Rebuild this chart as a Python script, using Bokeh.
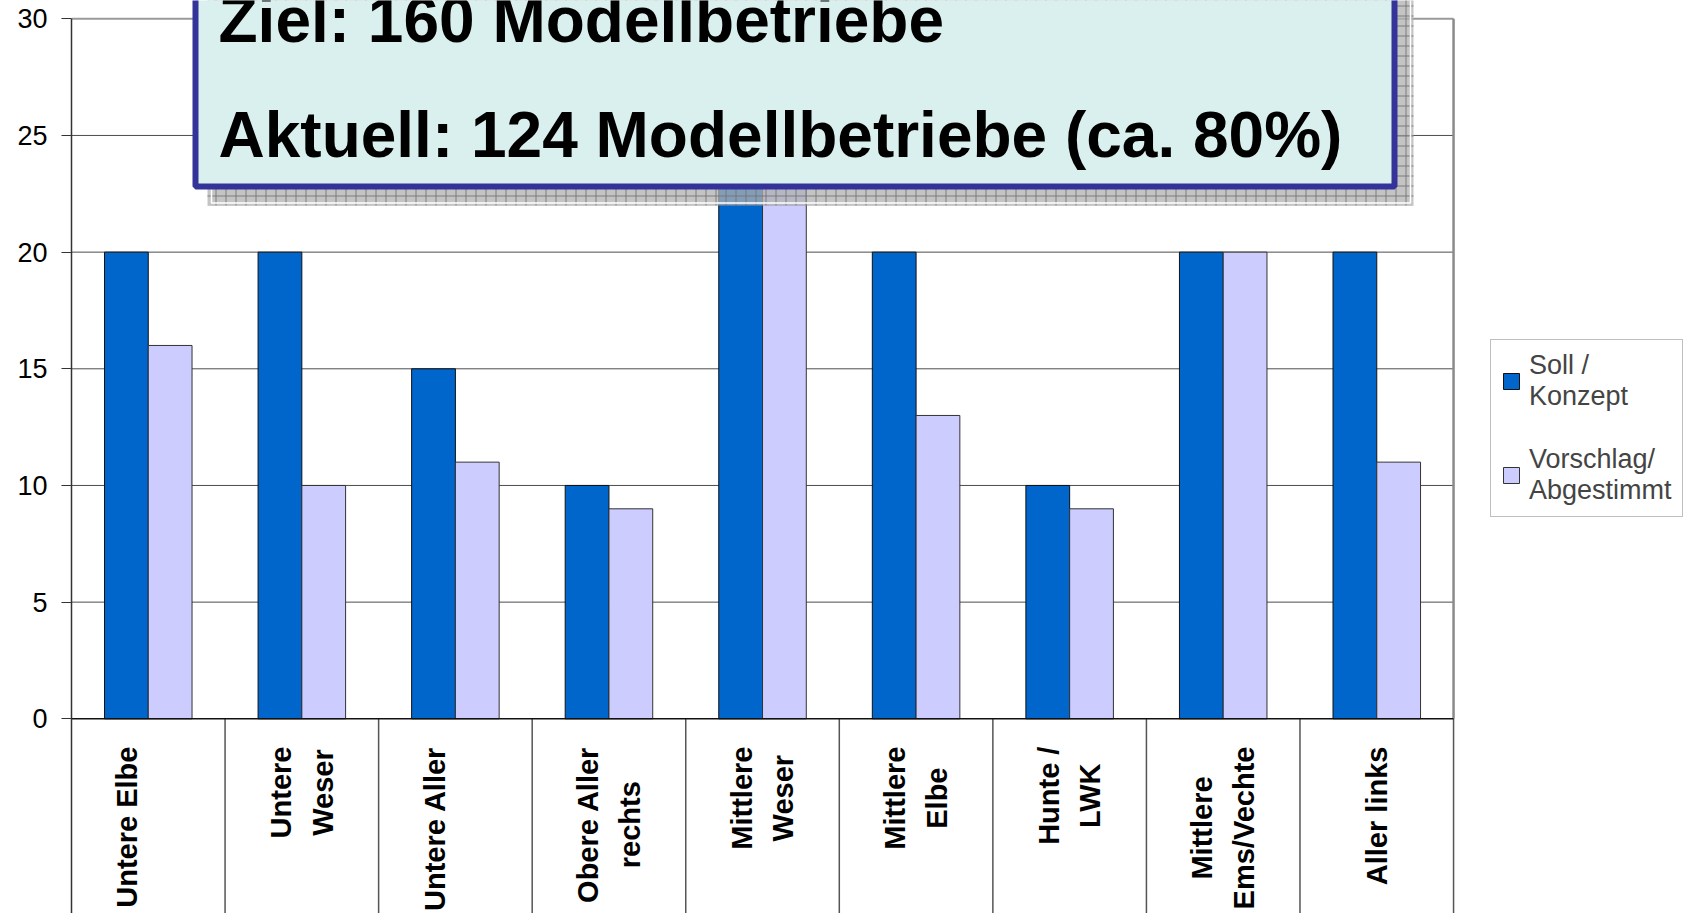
import numpy as np
from bokeh.plotting import figure
from bokeh.models import ColumnDataSource, Range1d, FixedTicker, Legend, LegendItem, Label
from bokeh.transform import dodge
from bokeh.core.properties import value
from bokeh.embed import file_html
from bokeh.resources import INLINE

# ---- data ----
categories = ["Untere Elbe\n", "Untere\nWeser", "Untere Aller\n", "Obere Aller\nrechts",
              "Mittlere\nWeser", "Mittlere\nElbe", "Hunte /\nLWK", "Mittlere\nEms/Vechte",
              "Aller links"]
soll = [20, 20, 15, 10, 25, 20, 10, 20, 20]
vorschlag = [16, 10, 11, 9, 25, 13, 9, 20, 11]
y_ticks = [0, 5, 10, 15, 20, 25, 30]
series_labels = ["Soll /\nKonzept", "Vorschlag/\nAbgestimmt"]
headline = ["Ziel: 160 Modellbetriebe", "Aktuell: 124 Modellbetriebe (ca. 80%)"]

n = len(categories)
xc = [i + 0.5 for i in range(n)]
src = ColumnDataSource(dict(x=xc, soll=soll, vorschlag=vorschlag, label=categories))

FONT = "Liberation Sans"
Y_BOTTOM = -8.344
p = figure(width=1686, height=913,
           x_range=Range1d(0, 10.517), y_range=Range1d(Y_BOTTOM, 30.784),
           output_backend="svg", toolbar_location=None, x_axis_location=None,
           min_border_left=71, min_border_right=0, min_border_top=0, min_border_bottom=0)
p.outline_line_color = None
p.grid.visible = False
p.background_fill_color = "white"
p.border_fill_color = "white"

yax = p.yaxis[0]
yax.ticker = FixedTicker(ticks=y_ticks)
yax.bounds = (Y_BOTTOM, y_ticks[-1])
yax.major_tick_out = 10
yax.major_tick_in = 0
yax.minor_tick_line_color = None
yax.axis_line_color = "#333333"
yax.axis_line_width = 1.5
yax.major_tick_line_color = "#333333"
yax.major_tick_line_width = 1.2
yax.major_label_text_font = FONT
yax.major_label_text_font_size = "27px"
yax.major_label_text_color = "black"
yax.major_label_standoff = 14

# gridlines inside the plot area
gy = y_ticks[1:-1]
p.segment(x0=[0] * len(gy), x1=[n] * len(gy), y0=gy, y1=gy, line_color="#4d4d4d", line_width=1)
p.segment(x0=[0], x1=[n], y0=[y_ticks[-1]], y1=[y_ticks[-1]], line_color="#9a9a9a", line_width=2)

# bars
w = 0.285
r1 = p.vbar(x=dodge("x", -w / 2), top="soll", width=w, source=src,
            fill_color="#0066CC", line_color="#111111", line_width=1)
r2 = p.vbar(x=dodge("x", w / 2), top="vorschlag", width=w, source=src,
            fill_color="#CCCCFF", line_color="#333333", line_width=1)

# plot-area right border, x axis line, category separators
p.segment(x0=[n], x1=[n], y0=[0], y1=[y_ticks[-1]], line_color="#8a8a8a", line_width=2.5)
seps = list(range(1, n + 1))
p.segment(x0=seps, x1=seps, y0=[Y_BOTTOM] * n, y1=[0] * n, line_color="#555555", line_width=1.5)
p.segment(x0=[0], x1=[n], y0=[0], y1=[0], line_color="#111111", line_width=1.5)

# category labels (vertical, bold)
p.text(x="x", y=-1.19, text="label", source=src, angle=np.pi / 2,
       text_align="center", anchor=value("center_right"),
       text_font=value(FONT), text_font_style="bold", text_font_size="29px",
       text_line_height=1.3, text_color="black")

# headline box with hatched shadow
p.quad(left=0.8857, right=8.739, bottom=22.0, top=33, fill_color="#b0b0b0", fill_alpha=0.75,
       hatch_pattern="+", hatch_color="#707070", hatch_alpha=0.85, hatch_scale=10,
       hatch_weight=1, line_color=None)
p.quad(left=0.9117, right=8.7197, bottom=22.106, top=33, fill_color=None,
       line_color="white", line_width=1.5)
p.quad(left=0.8075, right=8.6155, bottom=22.813, top=33, fill_color="#DAF0EE",
       line_color="#333399", line_width=6)

for txt, yy in zip(headline, [29.93, 25.0]):
    p.add_layout(Label(x=0.9573, y=yy, text=txt, text_font=FONT, text_font_style="bold",
                       text_font_size="64px", text_baseline="alphabetic", text_color="black"))

legend = Legend(items=[LegendItem(label=series_labels[0], renderers=[r1]),
                       LegendItem(label=series_labels[1], renderers=[r2])],
                location=(1419, 396), label_text_font=FONT, label_text_font_size="27px",
                label_text_line_height=1.22,
                glyph_width=20, glyph_height=20, label_standoff=8, padding=10, spacing=32,
                margin=0, border_line_color="#808080", border_line_width=1.5,
                background_fill_color="white", background_fill_alpha=1.0)
p.add_layout(legend)

open("out.html", "w").write(file_html(p, INLINE))
